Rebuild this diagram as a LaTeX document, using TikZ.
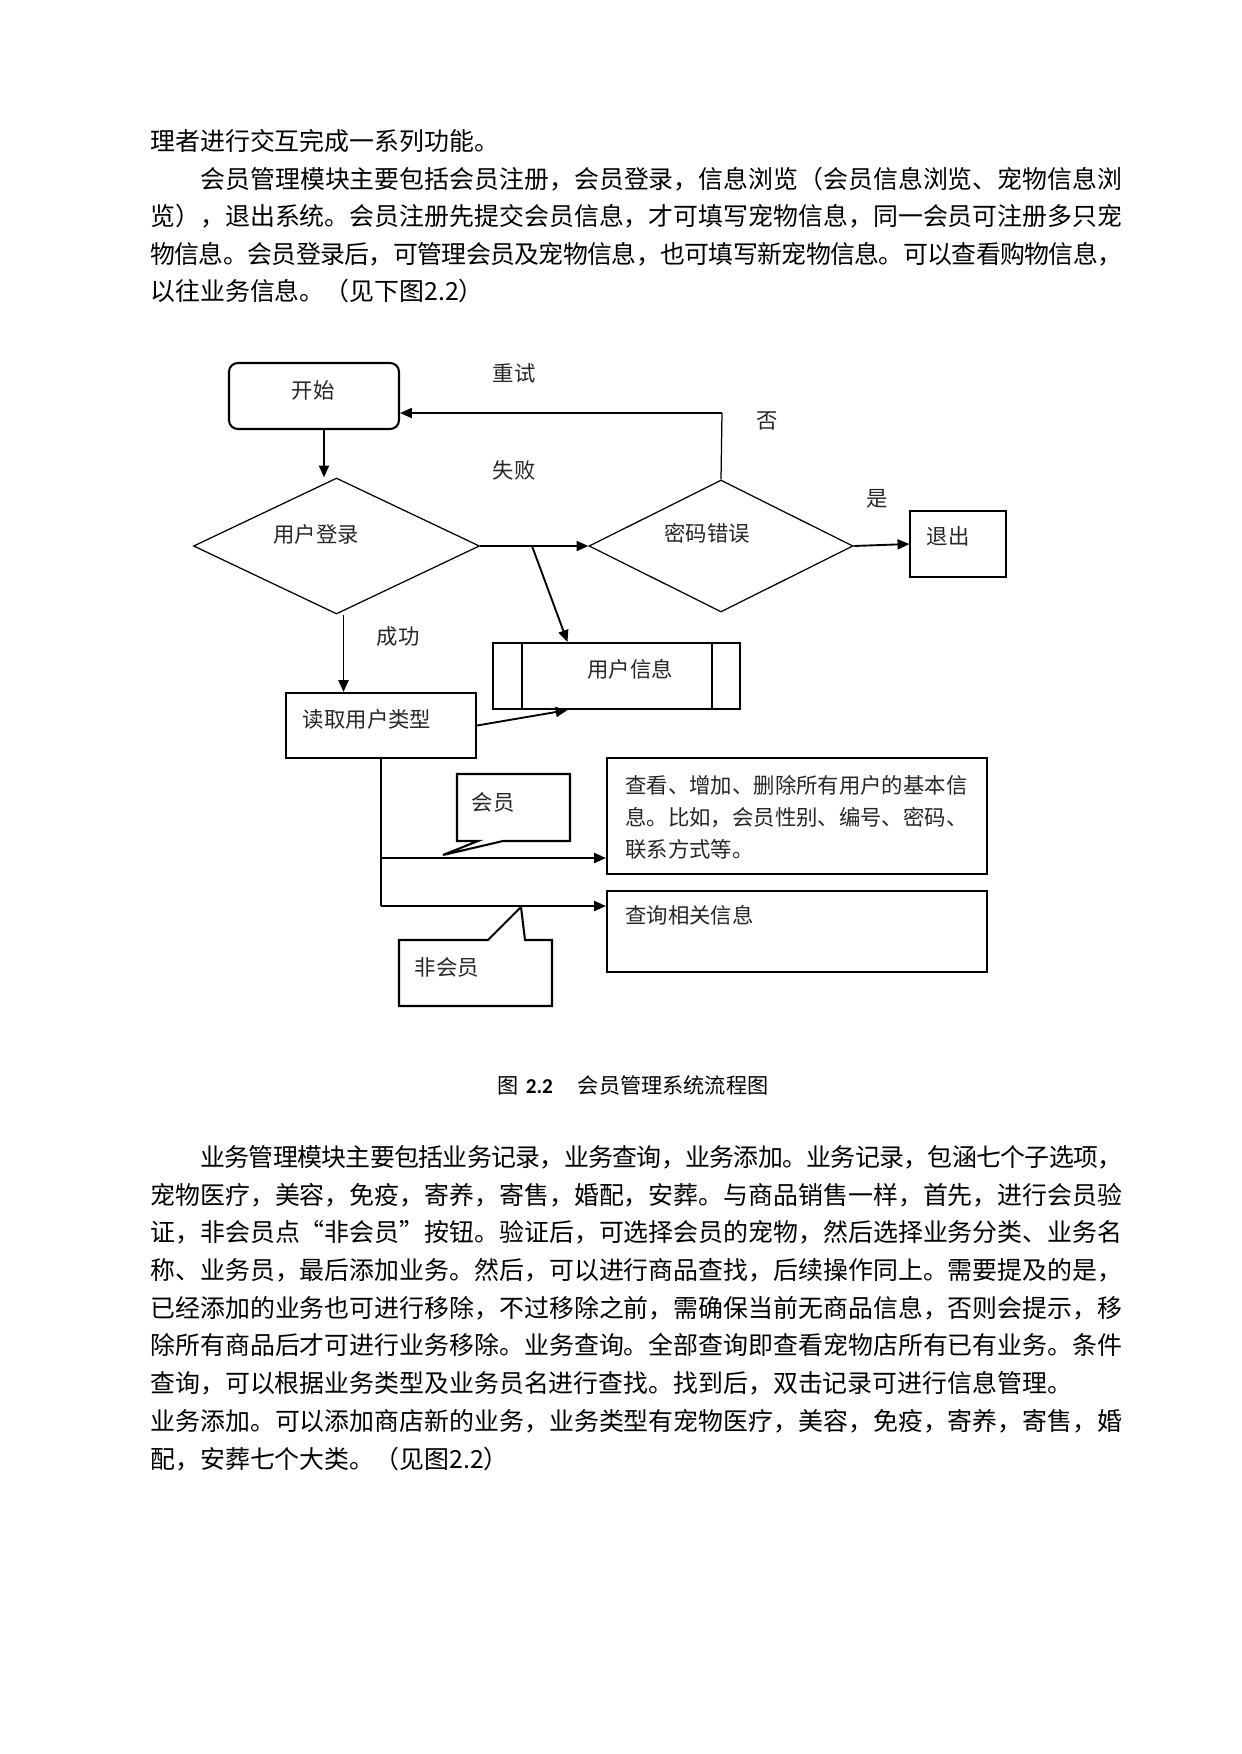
\documentclass[tikz,border=0pt]{standalone}
\usepackage{fontspec}
\setmainfont{Noto Sans CJK SC}
\newfontfamily\numfont{Carlito}
\usetikzlibrary{shapes.geometric,arrows.meta}

\newdimen\pxd \pxd=0.16933mm
\makeatletter
% one justified line of CJK text, width in px
\newcommand\jline[2]{\hbox to #1\pxd{\@tfor\jch:=#2\do{\jch\hskip 0pt plus 1fil minus 0.6pt}\unskip}}
\makeatother

\tikzset{
  body/.style={anchor=base west, inner sep=0pt, font=\fontsize{12pt}{18pt}\selectfont},
  txt/.style={inner sep=0pt, text=black!85, font=\fontsize{10.3pt}{13pt}\selectfont},
  rbox/.style={draw, line width=1pt, rounded corners=1.5mm, inner sep=0pt},
  box/.style={draw, line width=1pt, inner sep=0pt},
  tbox/.style={draw, line width=0.6pt, inner sep=0pt},
  dec/.style={draw, diamond, line width=0.6pt, inner sep=0pt},
  conn/.style={line width=0.9pt, -{Triangle[length=2mm,width=1.7mm]}},
  link/.style={line width=0.6pt},
  call/.style={draw, line width=1pt, fill=white}
}

\begin{document}
\begin{tikzpicture}[x=0.16933mm, y=-0.16933mm]
\fill[white] (0,0) rectangle (1241,1754);
\useasboundingbox (0,0) rectangle (1241,1754);

% text above the figure
\node[body] (t1) at (150,150.4) {理者进行交互完成一系列功能。};
\node[body] (t2) at (200,188) {\jline{922}{会员管理模块主要包括会员注册，会员登录，信息浏览（会员信息浏览、宠物信息浏}};
\node[body] (t3) at (150,225.6) {\jline{972}{览），退出系统。会员注册先提交会员信息，才可填写宠物信息，同一会员可注册多只宠}};
\node[body] (t4) at (150,263.2) {\jline{972}{物信息。会员登录后，可管理会员及宠物信息，也可填写新宠物信息。可以查看购物信息，}};
\node[body] (t5) at (150,300.8) {以往业务信息。（见下图2.2）};

% flow chart
\node[rbox, minimum width=170*\pxd, minimum height=66*\pxd] (start) at (314,396) {};
\node[dec, minimum width=286*\pxd, minimum height=136*\pxd] (login) at (336.5,546) {};
\node[dec, minimum width=264*\pxd, minimum height=132*\pxd] (pwd) at (721,546) {};
\node[tbox, minimum width=96*\pxd, minimum height=66*\pxd] (exit) at (958,544) {};
\node[box, minimum width=247*\pxd, minimum height=66*\pxd] (uinfo) at (616.5,676) {};
\node[box, minimum width=190*\pxd, minimum height=65*\pxd] (read) at (381,725.5) {};
\node[box, minimum width=380*\pxd, minimum height=116*\pxd] (mbox) at (797,816) {};
\node[box, minimum width=380*\pxd, minimum height=81*\pxd] (qbox) at (797,931.5) {};

\draw[link] ([xshift=30*\pxd]uinfo.north west) -- ([xshift=30*\pxd]uinfo.south west);
\draw[link] ([xshift=-29*\pxd]uinfo.north east) -- ([xshift=-29*\pxd]uinfo.south east);

% callouts
\draw[call] (457,774) -- (570,774) -- (570,841) -- (503,841) -- (443,855) -- (478,841) -- (457,841) -- cycle;
\draw[call] (399,940) -- (488,940) -- (521,907) -- (525,940) -- (552,940) -- (552,1006) -- (399,1006) -- cycle;

\coordinate (fork) at (532,546);
\coordinate (turn) at (722,413);
\coordinate (b1) at (381,858);
\coordinate (b2) at (381,906);

\draw[conn] ([xshift=10*\pxd]start.south) -- ([xshift=10*\pxd]start.south |- login.north);
\draw[conn] (login.east) -- (pwd.west);
\draw[conn] (fork) -- ([xshift=-49*\pxd]uinfo.north);
\draw[link] (pwd.north) -- (turn);
\draw[conn] (turn) -- (turn -| start.east);
\draw[conn] (pwd.east) -- (exit.west);
\draw[conn] ([xshift=7*\pxd]login.south) -- ([xshift=7*\pxd]login.south |- read.north);
\draw[conn] (read.east) -- ([xshift=-49*\pxd]uinfo.south);
\draw[link] (read.south) -- (b2);
\draw[conn] (b1) -- (b1 -| mbox.west);
\draw[conn] (b2) -- (b2 -| qbox.west);

% labels
\node[txt] (retryl) at (514,373) {重试};
\node[txt] (faill) at (514,470) {失败};
\node[txt] (nol) at (767,421) {否};
\node[txt] (yesl) at (877,499) {是};
\node[txt] (okl) at (398,636) {成功};
\node[txt] (startt) at (313,390) {开始};
\node[txt] (logint) at (316,534) {用户登录};
\node[txt] (pwdt) at (707,533) {密码错误};
\node[txt] (exitt) at (948,536) {退出};
\node[txt] (uinfot) at (630,669) {用户信息};
\node[txt] (readt) at (367,719) {读取用户类型};
\node[txt] (memt) at (493,802) {会员};
\node[txt] (nmemt) at (447,967) {非会员};
\node[txt, anchor=west] (mt1) at (625,785) {查看、增加、删除所有用户的基本信};
\node[txt, anchor=west] (mt2) at (625,818) {息。比如，会员性别、编号、密码、};
\node[txt, anchor=west] (mt3) at (625,849) {联系方式等。};
\node[txt, anchor=west] (qt) at (625,915) {查询相关信息};

% caption
\node[anchor=west, inner sep=0pt, font=\fontsize{10.2pt}{12pt}\selectfont] (cap) at (497,1085)
  {图\hspace{3.5pt}{\numfont\bfseries 2.2}\hspace{12pt}会员管理系统流程图};

% text below the figure
\node[body] (b1t) at (200,1166.4) {\jline{922}{业务管理模块主要包括业务记录，业务查询，业务添加。业务记录，包涵七个子选项，}};
\node[body] (b2t) at (150,1204.1) {\jline{972}{宠物医疗，美容，免疫，寄养，寄售，婚配，安葬。与商品销售一样，首先，进行会员验}};
\node[body] (b3t) at (150,1241.8) {\jline{972}{证，非会员点“非会员”按钮。验证后，可选择会员的宠物，然后选择业务分类、业务名}};
\node[body] (b4t) at (150,1279.5) {\jline{972}{称、业务员，最后添加业务。然后，可以进行商品查找，后续操作同上。需要提及的是，}};
\node[body] (b5t) at (150,1317.2) {\jline{972}{已经添加的业务也可进行移除，不过移除之前，需确保当前无商品信息，否则会提示，移}};
\node[body] (b6t) at (150,1354.9) {\jline{972}{除所有商品后才可进行业务移除。业务查询。全部查询即查看宠物店所有已有业务。条件}};
\node[body] (b7t) at (150,1392.6) {查询，可以根据业务类型及业务员名进行查找。找到后，双击记录可进行信息管理。};
\node[body] (b8t) at (150,1430.3) {\jline{972}{业务添加。可以添加商店新的业务，业务类型有宠物医疗，美容，免疫，寄养，寄售，婚}};
\node[body] (b9t) at (150,1468) {配，安葬七个大类。（见图2.2）};
\end{tikzpicture}
\end{document}
